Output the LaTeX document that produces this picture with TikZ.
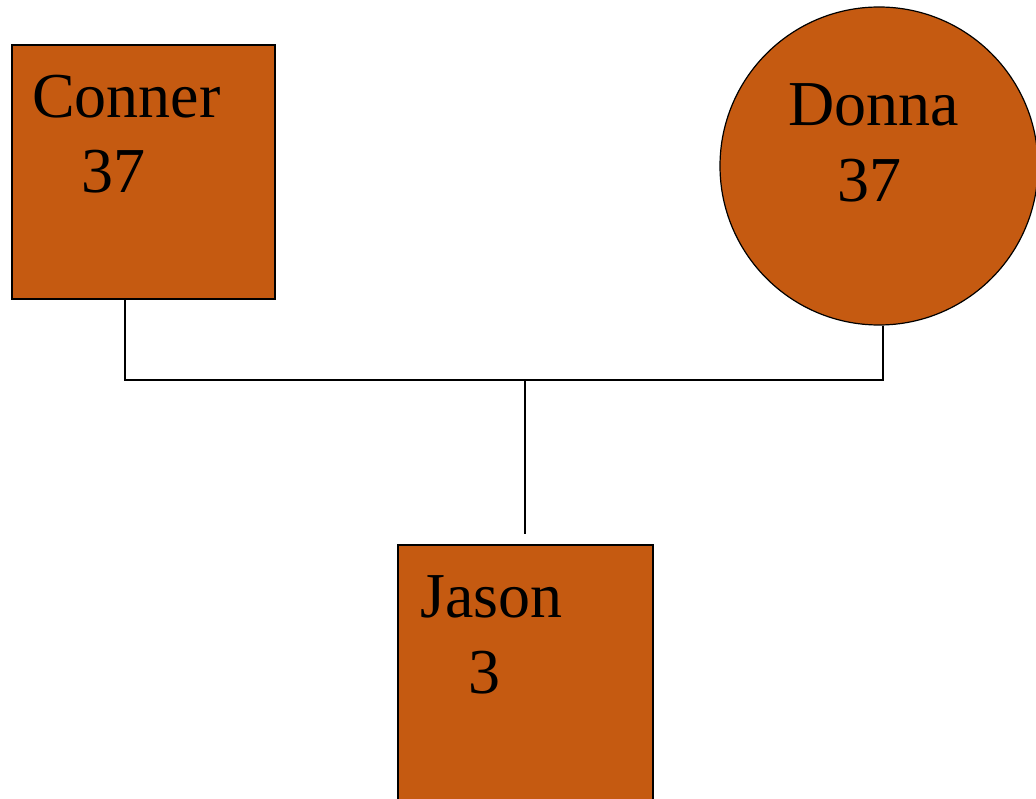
\documentclass[tikz,border=0pt]{standalone}
\usepackage{fontspec}
\setmainfont{Liberation Serif}
\definecolor{boxfill}{HTML}{C55A11}
\begin{document}
\begin{tikzpicture}[x=1pt,y=-1pt,
  person/.style={draw=black,line width=1.2pt,fill=boxfill,inner sep=0pt},
  male/.style={person,rectangle},
  female/.style={person,circle},
  lbl/.style={anchor=base west,inner sep=0pt,font=\fontsize{64}{75}\selectfont},
  link/.style={draw=black,line width=1.3pt}]
\useasboundingbox (0,0) rectangle (1036,799);
\clip (0,0) rectangle (1036,799);
\node[male,minimum width=263pt,minimum height=254pt] (conner) at (143.5,172) {};
\node[female,minimum size=318pt] (donna) at (879,166) {};
\node[male,minimum width=255pt,minimum height=270pt] (jason) at (525.5,680) {};
\node[lbl] (connerN) at (32,118) {Conner};
\node[lbl] (connerA) at (81,193) {37};
\node[lbl] (donnaN) at (788,126) {Donna};
\node[lbl] (donnaA) at (837,202) {37};
\node[lbl] (jasonN) at (420,617) {Jason};
\node[lbl] (jasonA) at (468,693) {3};
\coordinate (join) at (525,380);
\draw[link] ([xshift=-18.5pt]conner.south) |- (join) -| ([xshift=4pt]donna.south);
\draw[link] (join) -- ([yshift=10pt]jason.north -| join);
\end{tikzpicture}
\end{document}
